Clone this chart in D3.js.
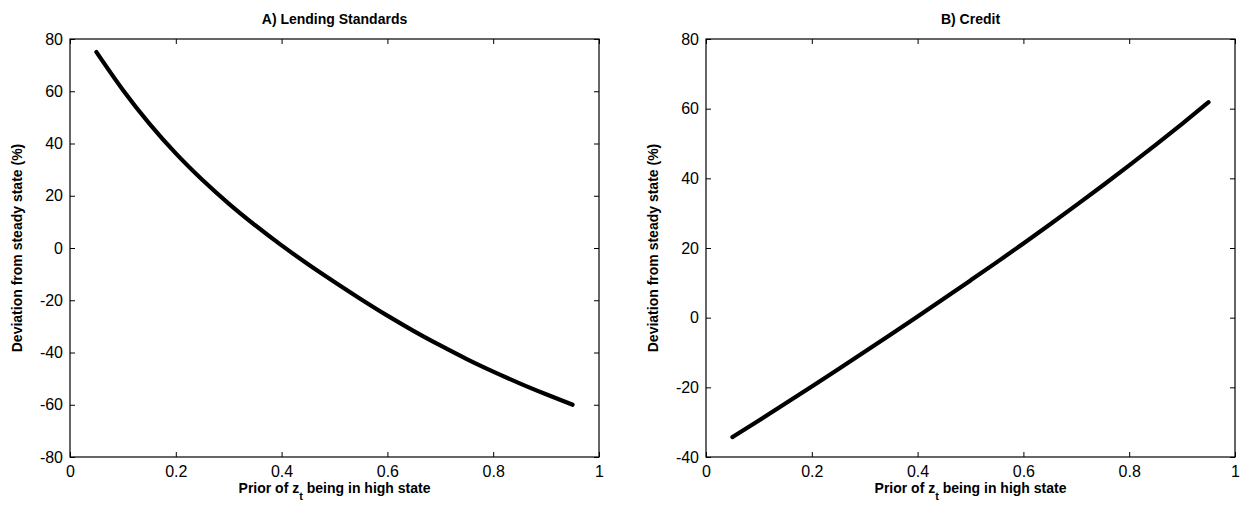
<!DOCTYPE html>
<html>
<head>
<meta charset="utf-8">
<script src="https://cdn.jsdelivr.net/npm/d3@7"></script>
<style>
body { margin: 0; background: #fff; }
svg { display: block; font-family: "Liberation Sans", Arial, sans-serif; }
.tick text { font-size: 16px; fill: #000; }
.ttl { font-size: 14px; font-weight: bold; }
.lab { font-size: 14px; font-weight: bold; }
</style>
</head>
<body>
<script>
// prior probability grid
const prior = [0.05, 0.1, 0.15, 0.2, 0.25, 0.3, 0.35, 0.4, 0.45, 0.5,
  0.55, 0.6, 0.65, 0.7, 0.75, 0.8, 0.85, 0.9, 0.95];

// A) lending standards, deviation (%)
const lending = [75, 60.5, 47.6, 36.2, 26.1, 17.0, 8.7, 1.0, -6.2, -13.0,
  -19.6, -25.9, -31.8, -37.3, -42.5, -47.3, -51.8, -56.0, -60.0];

// B) credit, deviation (%)
const credit = [-34.3, -29.5, -24.65, -19.75, -14.8, -9.8, -4.75, 0.35, 5.5, 10.7,
  15.95, 21.3, 26.75, 32.3, 37.95, 43.7, 49.6, 55.65, 61.85];

const xTicks = [0, 0.2, 0.4, 0.6, 0.8, 1];
const yTicksA = [-80, -60, -40, -20, 0, 20, 40, 60, 80];
const yTicksB = [-40, -20, 0, 20, 40, 60, 80];

const W = 1248, H = 508;
const svg = d3.select("body").append("svg").attr("width", W).attr("height", H);

const panels = [
  { title: "A) Lending Standards", left: 70, values: lending, domain: [-80, 80], yticks: yTicksA, ylabX: 22 },
  { title: "B) Credit", left: 706, values: credit, domain: [-40, 80], yticks: yTicksB, ylabX: 658 }
];

const plotTop = 39, plotW = 529, plotH = 418;
const fmt = function (d) { return String(d); }; // plain hyphen minus

panels.forEach(function (p) {
  const g = svg.append("g").attr("transform", "translate(" + p.left + "," + plotTop + ")");
  const x = d3.scaleLinear().domain([0, 1]).range([0, plotW]);
  const y = d3.scaleLinear().domain(p.domain).range([plotH, 0]);

  // bottom axis with labels
  const xb = g.append("g").attr("transform", "translate(0," + plotH + ")")
    .call(d3.axisBottom(x).tickValues(xTicks).tickFormat(fmt).tickSizeInner(-5).tickSizeOuter(0).tickPadding(9));
  // left axis with labels
  const yl = g.append("g")
    .call(d3.axisLeft(y).tickValues(p.yticks).tickFormat(fmt).tickSizeInner(-5).tickSizeOuter(0).tickPadding(7));
  // mirrored ticks on top and right
  const xt = g.append("g")
    .call(d3.axisTop(x).tickValues(xTicks).tickFormat("").tickSizeInner(-5).tickSizeOuter(0));
  const yr = g.append("g").attr("transform", "translate(" + plotW + ",0)")
    .call(d3.axisRight(y).tickValues(p.yticks).tickFormat("").tickSizeInner(-5).tickSizeOuter(0));

  [xb, yl, xt, yr].forEach(function (a) {
    a.select(".domain").remove();
    a.selectAll("line").attr("stroke", "#000");
  });

  g.append("rect")
    .attr("width", plotW).attr("height", plotH)
    .attr("fill", "none").attr("stroke", "#000").attr("stroke-width", 1.2);

  const line = d3.line()
    .x(function (d, i) { return x(prior[i]); })
    .y(function (d) { return y(d); })
    .curve(d3.curveMonotoneX);

  g.append("path")
    .datum(p.values)
    .attr("fill", "none")
    .attr("stroke", "#000")
    .attr("stroke-width", 4.2)
    .attr("stroke-linecap", "round")
    .attr("stroke-linejoin", "round")
    .attr("d", line);

  // title
  svg.append("text").attr("class", "ttl")
    .attr("x", p.left + plotW / 2).attr("y", 24)
    .attr("text-anchor", "middle").text(p.title);

  // x label with subscript
  const xl = svg.append("text").attr("class", "lab")
    .attr("x", p.left + plotW / 2).attr("y", 493)
    .attr("text-anchor", "middle");
  xl.append("tspan").text("Prior of z");
  xl.append("tspan").attr("dy", 7).style("font-size", "11px").text("t");
  xl.append("tspan").attr("dy", -7).text(" being in high state");

  // y label
  svg.append("text").attr("class", "lab")
    .attr("transform", "translate(" + p.ylabX + "," + (plotTop + plotH / 2) + ") rotate(-90)")
    .attr("text-anchor", "middle")
    .text("Deviation from steady state (%)");
});
</script>
</body>
</html>
